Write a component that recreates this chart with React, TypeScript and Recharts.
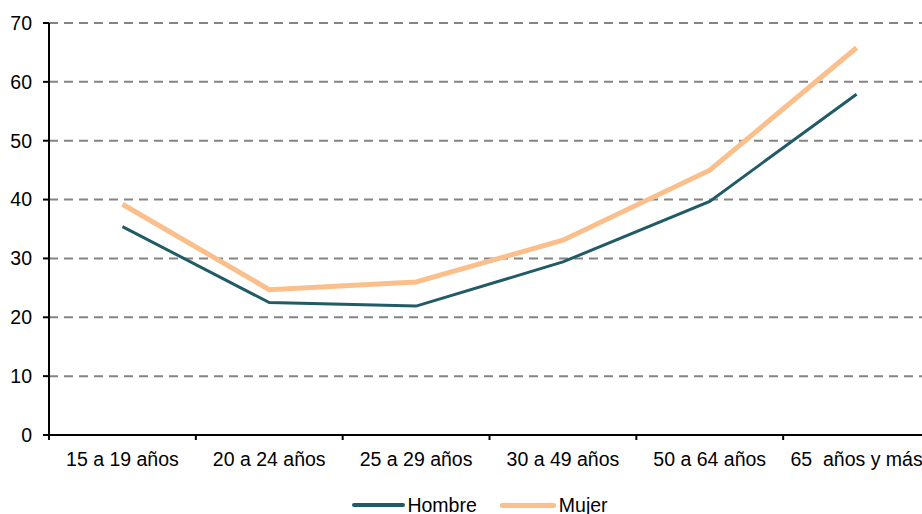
import {
  LineChart,
  Line,
  XAxis,
  YAxis,
  CartesianGrid,
  Legend,
} from 'recharts';

const categories = [
  '15 a 19 años',
  '20 a 24 años',
  '25 a 29 años',
  '30 a 49 años',
  '50 a 64 años',
  '65  años y más',
];
const hombre = [35.4, 22.5, 21.9, 29.4, 39.7, 57.9];
const mujer = [39.2, 24.7, 26.0, 33.1, 45.0, 65.8];
const yTicks = [0, 10, 20, 30, 40, 50, 60, 70];

const data = categories.map((name, i) => ({
  name,
  Hombre: hombre[i],
  Mujer: mujer[i],
}));

const CHART_W = 930;
const Y_AXIS_W = 49;
const BAND = (CHART_W - Y_AXIS_W) / categories.length;
const FONT = '"Liberation Sans", Arial, sans-serif';

const XTick = (props: any) => {
  const { x, y, payload, index } = props;
  return (
    <g>
      <line x1={x - BAND / 2} y1={y} x2={x - BAND / 2} y2={y + 5} stroke="#000" strokeWidth={2} />
      {index === categories.length - 1 && (
        <line x1={x + BAND / 2} y1={y} x2={x + BAND / 2} y2={y + 5} stroke="#000" strokeWidth={2} />
      )}
      <text
        x={x}
        y={y + 31}
        textAnchor="middle"
        fill="#000"
        fontSize={19.5}
        fontFamily={FONT}
        style={{ whiteSpace: 'pre' }}
      >
        {payload.value}
      </text>
    </g>
  );
};

const LegendContent = () => (
  <div
    style={{
      display: 'flex',
      justifyContent: 'center',
      alignItems: 'center',
      paddingLeft: 30,
      fontFamily: FONT,
      fontSize: 19.5,
      color: '#000',
      height: 30,
      paddingTop: 6,
    }}
  >
    <span style={{ display: 'inline-block', width: 53, height: 4, background: '#215b66', borderRadius: 2, marginRight: 2 }} />
    <span style={{ marginRight: 23 }}>Hombre</span>
    <span style={{ display: 'inline-block', width: 56, height: 5, background: '#fbbf8c', borderRadius: 2, marginRight: 3 }} />
    <span>Mujer</span>
  </div>
);

export default function App() {
  return (
    <div style={{ position: 'absolute', top: 0, left: 0, width: 922, height: 514, overflow: 'hidden', background: '#fff' }}>
      <LineChart
        width={CHART_W}
        height={514}
        data={data}
        margin={{ top: 23, right: 0, bottom: 0, left: 0 }}
      >
        <CartesianGrid
          horizontal
          vertical={false}
          stroke="#848484"
          strokeWidth={2}
          strokeDasharray="9 6"
        />
        <XAxis
          dataKey="name"
          scale="band"
          height={49}
          axisLine={{ stroke: '#000', strokeWidth: 2 }}
          tickLine={false}
          tickSize={0}
          tickMargin={0}
          tick={<XTick />}
          interval={0}
        />
        <YAxis
          width={Y_AXIS_W}
          domain={[0, 70]}
          ticks={yTicks}
          interval={0}
          axisLine={{ stroke: '#000', strokeWidth: 2 }}
          tickLine={{ stroke: '#000', strokeWidth: 2 }}
          tickSize={6}
          tickMargin={11}
          tick={{ fill: '#000', fontSize: 19.5, fontFamily: FONT }}
        />
        <Legend verticalAlign="bottom" height={30} content={<LegendContent />} />
        <Line
          type="linear"
          dataKey="Hombre"
          stroke="#215b66"
          strokeWidth={3}
          dot={false}
          isAnimationActive={false}
        />
        <Line
          type="linear"
          dataKey="Mujer"
          stroke="#fbbf8c"
          strokeWidth={5}
          dot={false}
          isAnimationActive={false}
        />
      </LineChart>
    </div>
  );
}
